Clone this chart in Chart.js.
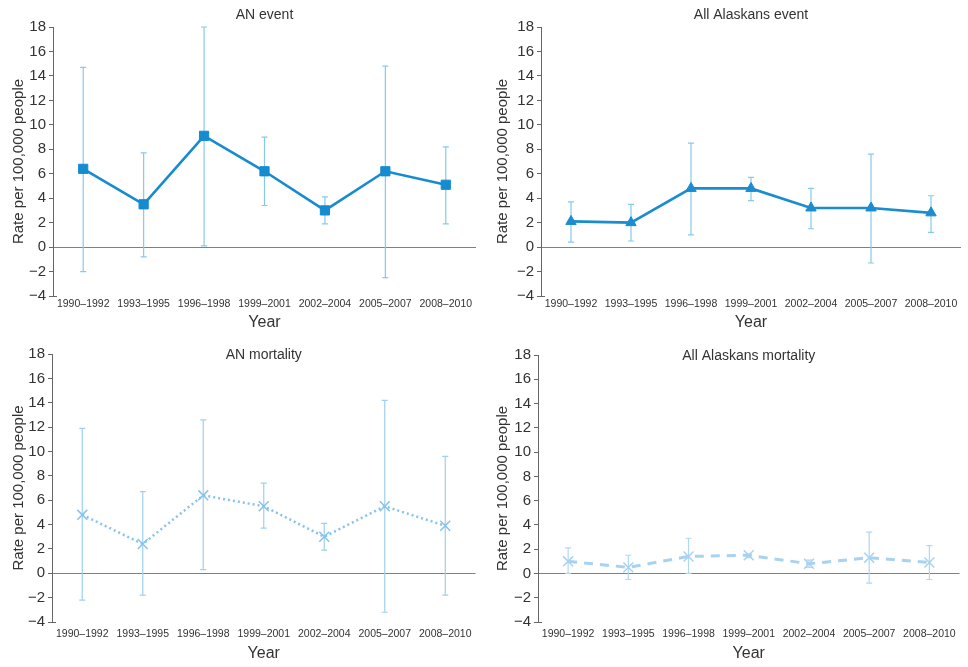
<!DOCTYPE html>
<html>
<head>
<meta charset="utf-8">
<script src="https://cdn.jsdelivr.net/npm/chart.js@4.4.1/dist/chart.umd.min.js"></script>
<style>
  body { margin: 0; background: #fff; }
  .panel { position: absolute; width: 484px; }
</style>
</head>
<body>
<div class="panel" style="left:0;top:0;height:334px"><canvas id="c1"></canvas></div>
<div class="panel" style="left:484px;top:0;height:334px"><canvas id="c2"></canvas></div>
<div class="panel" style="left:0;top:334px;height:333px"><canvas id="c3"></canvas></div>
<div class="panel" style="left:484px;top:334px;height:333px"><canvas id="c4"></canvas></div>
<script>
// data
const periods = ["1990–1992", "1993–1995", "1996–1998", "1999–2001", "2002–2004", "2005–2007", "2008–2010"];
const yMin = -4, yMax = 18, yStep = 2;

const anEvent     = [6.4, 3.5, 9.1, 6.2, 3.0, 6.2, 5.1];
const anEventLow  = [-2.0, -0.8, 0.1, 3.4, 1.9, -2.5, 1.9];
const anEventHigh = [14.7, 7.7, 18.0, 9.0, 4.1, 14.8, 8.2];

const allEvent     = [2.1, 2.0, 4.8, 4.8, 3.2, 3.2, 2.8];
const allEventLow  = [0.4, 0.5, 1.0, 3.8, 1.5, -1.3, 1.2];
const allEventHigh = [3.7, 3.5, 8.5, 5.7, 4.8, 7.6, 4.2];

const anMort     = [4.8, 2.4, 6.4, 5.5, 3.0, 5.5, 3.9];
const anMortLow  = [-2.2, -1.8, 0.3, 3.7, 1.9, -3.2, -1.8];
const anMortHigh = [11.9, 6.7, 12.6, 7.4, 4.1, 14.2, 9.6];

const allMort     = [1.0, 0.5, 1.4, 1.5, 0.8, 1.3, 0.9];
const allMortLow  = [0.0, -0.5, 0.0, 1.3, 0.5, -0.8, -0.5];
const allMortHigh = [2.1, 1.5, 2.9, 1.6, 1.1, 3.4, 2.3];

const FONT = "'Liberation Sans', Arial, sans-serif";

// error bars + panel title
const extras = {
  id: "extras",
  beforeDatasetsDraw(chart, args, opts) {
    const ctx = chart.ctx, x = chart.scales.x, y = chart.scales.y;
    ctx.save();
    ctx.strokeStyle = opts.errColor;
    ctx.lineWidth = 1.2;
    opts.low.forEach((lo, i) => {
      const px = x.getPixelForValue(i);
      const y1 = y.getPixelForValue(lo), y2 = y.getPixelForValue(opts.high[i]);
      ctx.beginPath();
      ctx.moveTo(px, y1); ctx.lineTo(px, y2);
      ctx.moveTo(px - 3, y1); ctx.lineTo(px + 3, y1);
      ctx.moveTo(px - 3, y2); ctx.lineTo(px + 3, y2);
      ctx.stroke();
    });
    ctx.restore();
  },
  afterDraw(chart, args, opts) {
    const ctx = chart.ctx, a = chart.chartArea;
    ctx.save();
    ctx.font = "14px " + FONT;
    ctx.fillStyle = "#333";
    ctx.textAlign = "center";
    ctx.textBaseline = "middle";
    ctx.fillText(opts.title, (a.left + a.right) / 2, a.top + opts.titleDy);
    // small foot at the bottom of the y axis
    ctx.strokeStyle = "#666";
    ctx.lineWidth = 1;
    ctx.beginPath();
    ctx.moveTo(a.left, a.bottom + 0.5);
    ctx.lineTo(a.left + 4, a.bottom + 0.5);
    ctx.stroke();
    ctx.restore();
  }
};

function panel(id, p) {
  new Chart(document.getElementById(id), {
    type: "line",
    data: {
      labels: periods,
      datasets: [{
        data: p.values,
        borderColor: p.color,
        backgroundColor: p.color,
        borderWidth: p.lineWidth,
        borderDash: p.dash,
        tension: 0,
        pointStyle: p.marker,
        pointRadius: p.radius,
        pointBorderWidth: p.markerWidth,
        pointBorderColor: p.color,
        pointBackgroundColor: p.color
      }]
    },
    options: {
      responsive: true,
      maintainAspectRatio: false,
      animation: false,
      layout: { padding: { top: p.top, right: p.right, left: 0, bottom: 0 } },
      plugins: {
        legend: { display: false },
        tooltip: { enabled: false },
        extras: { low: p.low, high: p.high, errColor: p.errColor, title: p.title, titleDy: p.titleDy }
      },
      scales: {
        x: {
          offset: true,
          grid: { display: false, drawTicks: false },
          border: { display: false },
          ticks: { font: { family: FONT, size: 10.5 }, color: "#333", padding: p.xPad, maxRotation: 0, autoSkip: false },
          title: { display: true, text: "Year", font: { family: FONT, size: 16 }, color: "#333", padding: { top: 0, bottom: p.yearPad } },
          afterFit: (s) => { s.height = p.bottom; }
        },
        y: {
          min: yMin, max: yMax,
          ticks: {
            stepSize: yStep,
            font: { family: FONT, size: 15 }, color: "#333", padding: 3,
            callback: (v) => String(v).replace("-", "\u2212")
          },
          grid: {
            color: (c) => c.tick && c.tick.value === 0 ? "#808080" : "rgba(0,0,0,0)",
            tickColor: "#666",
            tickLength: 4,
            lineWidth: 1
          },
          border: { display: true, color: "#666", width: 1 },
          title: { display: true, text: "Rate per 100,000 people", font: { family: FONT, size: 15 }, color: "#333", padding: { top: 10, bottom: 0 } },
          afterFit: (s) => { s.width = p.left; }
        }
      }
    },
    plugins: [extras]
  });
}

panel("c1", {
  title: "AN event", values: anEvent, low: anEventLow, high: anEventHigh,
  color: "#168bcf", errColor: "#86c9ee", lineWidth: 2.6, dash: [], marker: "rect", radius: 6.5, markerWidth: 1,
  top: 27, right: 8, left: 53, bottom: 38, xPad: 2, yearPad: 2, titleDy: -12
});
panel("c2", {
  title: "All Alaskans event", values: allEvent, low: allEventLow, high: allEventHigh,
  color: "#1a8ccf", errColor: "#86c9ee", lineWidth: 2.6, dash: [], marker: "triangle", radius: 6, markerWidth: 1,
  top: 27, right: 4, left: 57, bottom: 38, xPad: 2, yearPad: 2, titleDy: -12
});
panel("c3", {
  title: "AN mortality", values: anMort, low: anMortLow, high: anMortHigh,
  color: "#86c3ec", errColor: "#9ed0f0", lineWidth: 2.5, dash: [2, 3], marker: "crossRot", radius: 7, markerWidth: 1.5,
  top: 20, right: 7, left: 52, bottom: 45, xPad: 6, yearPad: 4, titleDy: 1
});
panel("c4", {
  title: "All Alaskans mortality", values: allMort, low: allMortLow, high: allMortHigh,
  color: "#a8d2f2", errColor: "#b0d8f4", lineWidth: 3, dash: [9, 7], marker: "crossRot", radius: 7, markerWidth: 1.5,
  top: 21, right: 4, left: 54, bottom: 45, xPad: 6, yearPad: 4, titleDy: 1
});
</script>
</body>
</html>
